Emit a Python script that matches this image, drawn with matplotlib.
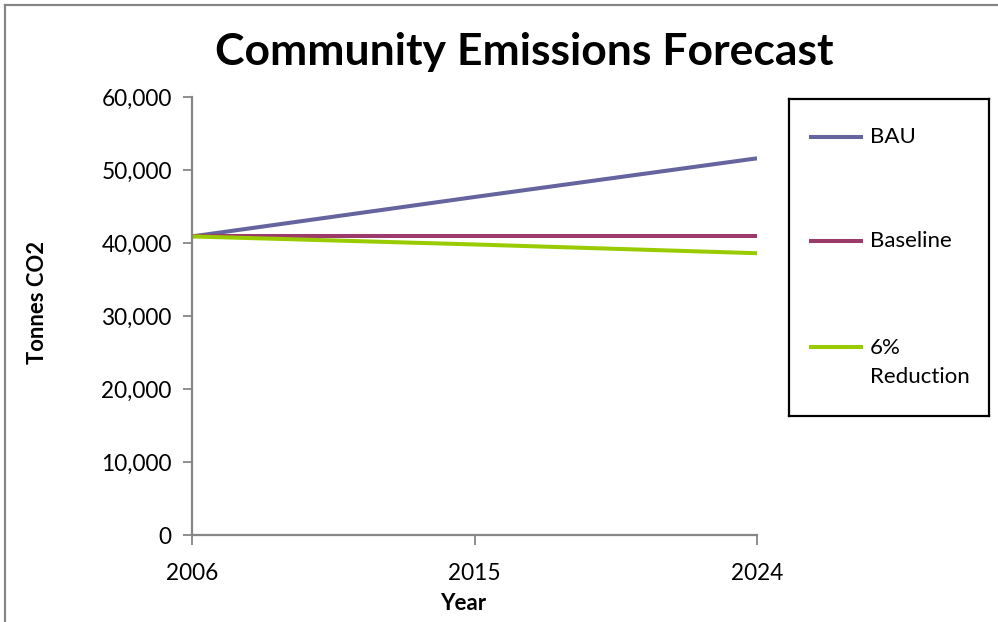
import matplotlib
matplotlib.use("Agg")
import matplotlib.pyplot as plt
from matplotlib.lines import Line2D

# Forecast data (tonnes CO2)
years = [2006, 2015, 2024]
bau = [40900, 46300, 51600]
baseline = [40900, 40900, 40900]
reduction = [40900, 39800, 38600]

series_names = ["BAU", "Baseline", "6%\nReduction"]
series_colors = ["#65649E", "#9B3A6B", "#99CC00"]
y_ticks = [0, 10000, 20000, 30000, 40000, 50000, 60000]
x_ticks = [2006, 2015, 2024]

FONT = "Lato"
AXIS_GRAY = "#868686"

W, H = 998, 622
fig = plt.figure(figsize=(W / 100, H / 100), dpi=100)
fig.patch.set_facecolor("white")

# chart-area frame (top and left edges)
fig.add_artist(Line2D([5 / W, 5 / W], [0, 1 - 5 / H], color=AXIS_GRAY, lw=1.6,
                      transform=fig.transFigure))
fig.add_artist(Line2D([5 / W, 1], [1 - 5 / H, 1 - 5 / H], color=AXIS_GRAY, lw=1.6,
                      transform=fig.transFigure))

# plot area
left, right, top, bottom = 192, 757, 97, 535
ax = fig.add_axes([left / W, 1 - bottom / H, (right - left) / W, (bottom - top) / H])
for name, vals, col in zip(series_names, [bau, baseline, reduction], series_colors):
    ax.plot(years, vals, color=col, lw=2.9, solid_capstyle="butt", label=name)

ax.set_xlim(2006, 2024)
ax.set_ylim(0, 60000)
ax.set_xticks(x_ticks)
ax.set_xticklabels([str(x) for x in x_ticks], fontfamily=FONT, fontsize=16.3)
ax.set_yticks(y_ticks)
ax.set_yticklabels([f"{v:,}" for v in y_ticks], fontfamily=FONT, fontsize=16.3)
for s in ["top", "right"]:
    ax.spines[s].set_visible(False)
for s in ["left", "bottom"]:
    ax.spines[s].set_color(AXIS_GRAY)
    ax.spines[s].set_linewidth(1.6)
ax.tick_params(axis="y", direction="out", length=6.5, width=1.3, color=AXIS_GRAY, pad=8)
ax.tick_params(axis="x", direction="out", length=7, width=1.3, color=AXIS_GRAY, pad=13)

fig.text(463 / W, 1 - 604 / H, "Year", ha="center", va="center",
         fontfamily=FONT, fontweight="bold", fontsize=16)
fig.text(38 / W, 1 - 302 / H, "Tonnes CO2", ha="center", va="center", rotation=90,
         fontfamily=FONT, fontweight="bold", fontsize=15.8)
fig.text(524 / W, 1 - 52 / H, "Community Emissions Forecast", ha="center", va="center",
         fontfamily=FONT, fontweight="bold", fontsize=32)

# legend box
lx0, ly0, lx1, ly1 = 789, 99, 989, 416
lax = fig.add_axes([lx0 / W, 1 - ly1 / H, (lx1 - lx0) / W, (ly1 - ly0) / H])
lax.set_xlim(0, lx1 - lx0)
lax.set_ylim(ly1 - ly0, 0)
lax.set_xticks([])
lax.set_yticks([])
for s in lax.spines.values():
    s.set_color("black")
    s.set_linewidth(1.6)
entry_y = [137 - ly0, 241 - ly0, 347 - ly0]
for name, col, yy in zip(series_names, series_colors, entry_y):
    lax.plot([20, 74], [yy, yy], color=col, lw=2.9, solid_capstyle="butt")
    nlines = name.count("\n")
    ty = yy + nlines * 31 / 2
    lax.text(81, ty, name, ha="left", va="center", fontfamily=FONT, fontsize=16,
             linespacing=1.57)

fig.savefig("out.png", dpi=100)
